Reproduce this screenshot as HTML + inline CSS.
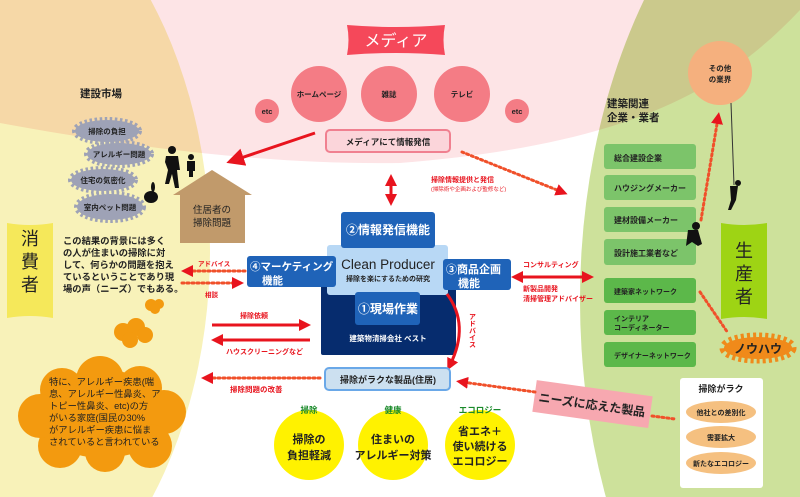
<!DOCTYPE html>
<html><head><meta charset="utf-8"><style>
html,body{margin:0;padding:0;background:#fff;width:800px;height:497px;overflow:hidden}
svg{display:block}
text{font-family:"Liberation Sans","Noto Sans CJK JP",sans-serif}
.s{font-family:"Liberation Serif","Noto Serif CJK SC",serif}
</style></head><body>
<svg width="800" height="497" viewBox="0 0 800 497" xmlns="http://www.w3.org/2000/svg">
<defs>
<marker id="ah" markerWidth="6" markerHeight="6" refX="4" refY="3" orient="auto" markerUnits="strokeWidth"><path d="M0,0 L6,3 L0,6 Z" fill="#e8141e"/></marker>
<marker id="ahs" markerWidth="4" markerHeight="4" refX="2" refY="2" orient="auto-start-reverse" markerUnits="strokeWidth"><path d="M0,0 L4,2 L0,4 Z" fill="#e8141e"/></marker>
<marker id="ad" markerWidth="4" markerHeight="4" refX="2" refY="2" orient="auto-start-reverse" markerUnits="strokeWidth"><path d="M0,0 L4,2 L0,4 Z" fill="#e8141e"/></marker>
</defs>
<rect width="800" height="497" fill="#fff"/>
<path d="M0,0 H800 V10 C720,95 620,145 400,163 C260,165 120,145 0,123 Z" fill="#fde4e6"/>
<ellipse cx="-60" cy="250" rx="270" ry="400" fill="#f8f2b9" style="mix-blend-mode:multiply"/>
<ellipse cx="900" cy="300" rx="320" ry="500" fill="#cde19b" style="mix-blend-mode:multiply"/>

<!-- media -->
<path d="M347,25 Q396,29 445,25 Q442,40 445,55 Q396,51 347,55 Q350,40 347,25Z" fill="#f5485a"/>
<text x="396" y="46" font-size="16" fill="#fff" text-anchor="middle">メディア</text>
<circle cx="319" cy="94" r="28" fill="#f47c85"/><text x="319" y="97" font-size="7.5" font-weight="bold" text-anchor="middle" fill="#222">ホームページ</text>
<circle cx="389" cy="94" r="28" fill="#f47c85"/><text x="389" y="97" font-size="7.5" font-weight="bold" text-anchor="middle" fill="#222">雑誌</text>
<circle cx="462" cy="94" r="28" fill="#f47c85"/><text x="462" y="97" font-size="7.5" font-weight="bold" text-anchor="middle" fill="#222">テレビ</text>
<circle cx="267" cy="111" r="12" fill="#f47c85"/><text x="267" y="114" font-size="7.5" font-weight="bold" text-anchor="middle" fill="#222">etc</text>
<circle cx="517" cy="111" r="12" fill="#f47c85"/><text x="517" y="114" font-size="7.5" font-weight="bold" text-anchor="middle" fill="#222">etc</text>
<rect x="326" y="130" width="124" height="22" rx="4" fill="#fbd5da" stroke="#f08090" stroke-width="2"/>
<text x="388" y="145" font-size="8.5" font-weight="bold" text-anchor="middle" fill="#222">メディアにて情報発信</text>
<line x1="315" y1="133" x2="232" y2="161" stroke="#e8141e" stroke-width="3" marker-end="url(#ah)"/>
<line x1="391" y1="180" x2="391" y2="200" stroke="#e8141e" stroke-width="3" marker-start="url(#ahs)" marker-end="url(#ahs)"/>
<line x1="462" y1="152" x2="562" y2="192" stroke="#f0502a" stroke-width="3" stroke-dasharray="2 3" stroke-linecap="round" marker-end="url(#ad)"/>
<text x="431" y="182" font-size="7" font-weight="bold" fill="#e8141e">掃除情報提供と発信</text>
<text x="431" y="191" font-size="5.5" fill="#e8141e">(掃除術や企画および監修など)</text>

<!-- center -->
<rect x="321" y="262" width="135" height="93" rx="2" fill="#062c6e"/>
<rect x="327" y="245" width="121" height="50" rx="3" fill="#b8d8f5"/>
<rect x="341" y="212" width="94" height="36" rx="3" fill="#1f63b8"/>
<text x="388" y="234" font-size="12" font-weight="bold" text-anchor="middle" fill="#fff">②情報発信機能</text>
<text x="388" y="269" font-size="13.5" text-anchor="middle" fill="#222">Clean Producer</text>
<text x="388" y="281" font-size="7" font-weight="bold" text-anchor="middle" fill="#222">掃除を楽にするための研究</text>
<rect x="355" y="292" width="65" height="33" rx="3" fill="#1f63b8"/>
<text x="388" y="313" font-size="12" font-weight="bold" text-anchor="middle" fill="#fff">①現場作業</text>
<text x="388" y="341" font-size="7.5" font-weight="bold" text-anchor="middle" fill="#fff">建築物清掃会社 ベスト</text>
<rect x="247" y="256" width="89" height="31" rx="3" fill="#1f63b8"/>
<text x="250" y="270" font-size="10.5" font-weight="bold" fill="#fff">④マーケティング</text>
<text x="262" y="284" font-size="10.5" font-weight="bold" fill="#fff">機能</text>
<rect x="443" y="259" width="68" height="31" rx="3" fill="#1f63b8"/>
<text x="446" y="273" font-size="11" font-weight="bold" fill="#fff">③商品企画</text>
<text x="458" y="287" font-size="11" font-weight="bold" fill="#fff">機能</text>
<line x1="517" y1="277" x2="588" y2="277" stroke="#e8141e" stroke-width="3" marker-start="url(#ahs)" marker-end="url(#ahs)"/>
<text x="523" y="267" font-size="7" font-weight="bold" fill="#e8141e">コンサルティング</text>
<text x="523" y="291" font-size="7" font-weight="bold" fill="#e8141e">新製品開発</text>
<text x="523" y="301" font-size="7" font-weight="bold" fill="#e8141e">清掃管理アドバイザー</text>
<path d="M447,294 Q470,325 450,365" fill="none" stroke="#e8141e" stroke-width="3" marker-end="url(#ahs)"/>
<text font-size="7" font-weight="bold" fill="#e8141e" writing-mode="tb" x="472" y="313">アドバイス</text>
<rect x="325" y="368" width="125" height="22" rx="4" fill="#cce0f0" stroke="#6aa8e8" stroke-width="2"/>
<text x="388" y="383" font-size="9" font-weight="bold" text-anchor="middle" fill="#222">掃除がラクな製品(住居)</text>
<line x1="320" y1="378" x2="207" y2="378" stroke="#f0502a" stroke-width="3" stroke-dasharray="2 3" stroke-linecap="round" marker-end="url(#ad)"/>
<text x="230" y="392" font-size="7.5" font-weight="bold" fill="#e8141e">掃除問題の改善</text>
<line x1="212" y1="325" x2="305" y2="325" stroke="#e8141e" stroke-width="3" marker-end="url(#ahs)"/>
<line x1="310" y1="340" x2="217" y2="340" stroke="#e8141e" stroke-width="3" marker-end="url(#ahs)"/>
<text x="240" y="318" font-size="7" font-weight="bold" fill="#e8141e">掃除依頼</text>
<text x="226" y="354" font-size="7" font-weight="bold" fill="#e8141e">ハウスクリーニングなど</text>
<circle cx="309" cy="445" r="35" fill="#fff200"/>
<circle cx="393" cy="445" r="35" fill="#fff200"/>
<circle cx="480" cy="445" r="35" fill="#fff200"/>
<text x="309" y="413" font-size="8.5" font-weight="bold" text-anchor="middle" fill="#1a8a2a">掃除</text>
<text x="393" y="413" font-size="8.5" font-weight="bold" text-anchor="middle" fill="#1a8a2a">健康</text>
<text x="480" y="413" font-size="8.5" font-weight="bold" text-anchor="middle" fill="#1a8a2a">エコロジー</text>
<g font-size="11" font-weight="bold" text-anchor="middle" fill="#222">
<text x="309" y="443">掃除の</text><text x="309" y="459">負担軽減</text>
<text x="393" y="443">住まいの</text><text x="393" y="459">アレルギー対策</text>
<text x="480" y="435">省エネ＋</text><text x="480" y="450">使い続ける</text><text x="480" y="465">エコロジー</text></g>

<!-- left -->
<text x="80" y="97" font-size="10.5" font-weight="bold" fill="#222">建設市場</text>
<g fill="#9ea2b6" stroke="#9ea2b6" stroke-width="6" stroke-dasharray="2.5 2.5">
<ellipse cx="107" cy="131" rx="32" ry="11"/>
<ellipse cx="119" cy="154" rx="32" ry="11"/>
<ellipse cx="103" cy="180" rx="32" ry="11"/>
<ellipse cx="110" cy="207" rx="33" ry="13"/>
</g>
<g font-size="7.5" font-weight="bold" fill="#222" text-anchor="middle">
<text x="107" y="134">掃除の負担</text><text x="119" y="157">アレルギー問題</text>
<text x="103" y="183">住宅の気密化</text><text x="110" y="210">室内ペット問題</text></g>
<g fill="#111">
<circle cx="172" cy="150" r="4"/><path d="M166,156 h12 l2,14 l-3,0 l2,18 h-4 l-3,-14 l-3,10 h-4 l3,-14 l-3,-8 z"/>
<circle cx="191" cy="157" r="3"/><path d="M187,161 h8 l0,10 l-2,0 l0,6 h-4 l0,-6 l-2,0 z"/>
<ellipse cx="151" cy="197" rx="7" ry="6"/><ellipse cx="153" cy="187" rx="2" ry="5"/>
</g>
<path d="M212,170 L252,195 L245,195 L245,243 L180,243 L180,195 L173,195 Z" fill="#c19a6b"/>
<text x="212" y="213" font-size="9.5" fill="#222" text-anchor="middle">住居者の</text>
<text x="212" y="226" font-size="9.5" fill="#222" text-anchor="middle">掃除問題</text>
<path d="M7,223 Q30,227 53,223 L53,318 Q30,314 7,318 Z" fill="#f5e85a"/>
<text x="30" y="245" font-size="18" fill="#222" text-anchor="middle">消</text>
<text x="30" y="268" font-size="18" fill="#222" text-anchor="middle">費</text>
<text x="30" y="291" font-size="18" fill="#222" text-anchor="middle">者</text>
<g font-size="9.3" font-weight="bold" fill="#222">
<text x="63" y="244">この結果の背景には多く</text>
<text x="63" y="256">の人が住まいの掃除に対</text>
<text x="63" y="268">して、何らかの問題を抱え</text>
<text x="63" y="280">ているということであり現</text>
<text x="63" y="292">場の声（ニーズ）でもある。</text></g>
<line x1="245" y1="271" x2="187" y2="271" stroke="#f0502a" stroke-width="3" stroke-dasharray="2 3" stroke-linecap="round" marker-end="url(#ad)"/>
<line x1="182" y1="283" x2="238" y2="283" stroke="#f0502a" stroke-width="3" stroke-dasharray="2 3" stroke-linecap="round" marker-end="url(#ad)"/>
<text x="198" y="266" font-size="6.5" font-weight="bold" fill="#e8141e">アドバイス</text>
<text x="205" y="297" font-size="6.5" font-weight="bold" fill="#e8141e">相談</text>
<g fill="#f39a0f">
<circle cx="151" cy="305" r="6"/><circle cx="159" cy="304" r="5"/><circle cx="155" cy="309" r="5"/>
<circle cx="123" cy="332" r="9"/><circle cx="136" cy="327" r="9"/><circle cx="145" cy="335" r="8"/><circle cx="130" cy="340" r="8"/>
<ellipse cx="103" cy="414" rx="68" ry="44"/>
<circle cx="62" cy="390" r="22"/><circle cx="100" cy="380" r="24"/><circle cx="140" cy="388" r="22"/>
<circle cx="164" cy="412" r="22"/><circle cx="150" cy="446" r="22"/><circle cx="105" cy="452" r="20"/>
<circle cx="60" cy="446" r="22"/><circle cx="40" cy="416" r="22"/></g>
<g class="s" font-size="9.3" fill="#222">
<text x="49" y="385">特に、アレルギー疾患(喘</text>
<text x="49" y="397">息、アレルギー性鼻炎、ア</text>
<text x="49" y="409">トピー性鼻炎、etc)の方</text>
<text x="49" y="421">がいる家庭(国民の30%</text>
<text x="49" y="433">がアレルギー疾患に悩ま</text>
<text x="49" y="445">されていると言われている</text></g>

<!-- right -->
<text x="607" y="107" font-size="10.5" font-weight="bold" fill="#222">建築関連</text>
<text x="607" y="121" font-size="10.5" font-weight="bold" fill="#222">企業・業者</text>
<circle cx="720" cy="73" r="32" fill="#f5b07e"/>
<text x="720" y="71" font-size="7.5" font-weight="bold" text-anchor="middle" fill="#222">その他</text>
<text x="720" y="82" font-size="7.5" font-weight="bold" text-anchor="middle" fill="#222">の業界</text>
<g>
<rect x="604" y="144" width="92" height="25" rx="3" fill="#7cc46a"/>
<rect x="604" y="175" width="92" height="25" rx="3" fill="#7cc46a"/>
<rect x="604" y="207" width="92" height="25" rx="3" fill="#7cc46a"/>
<rect x="604" y="239" width="92" height="26" rx="3" fill="#7cc46a"/>
<rect x="604" y="278" width="92" height="25" rx="3" fill="#5cb84a"/>
<rect x="604" y="310" width="92" height="25" rx="3" fill="#5cb84a"/>
<rect x="604" y="342" width="92" height="25" rx="3" fill="#5cb84a"/></g>
<g font-size="8" font-weight="bold" fill="#222">
<text x="614" y="161">総合建設企業</text>
<text x="614" y="191">ハウジングメーカー</text>
<text x="614" y="223">建材設備メーカー</text>
<text x="614" y="256">設計施工業者など</text>
<text x="614" y="294" font-size="7">建築家ネットワーク</text>
<text x="614" y="321" font-size="7">インテリア</text>
<text x="614" y="330" font-size="7">コーディネーター</text>
<text x="614" y="358" font-size="7">デザイナーネットワーク</text></g>
<path d="M721,223 Q744,227 767,223 L767,319 Q744,315 721,319 Z" fill="#9ed414"/>
<text x="744" y="257" font-size="18" fill="#222" text-anchor="middle">生</text>
<text x="744" y="280" font-size="18" fill="#222" text-anchor="middle">産</text>
<text x="744" y="303" font-size="18" fill="#222" text-anchor="middle">者</text>
<line x1="731" y1="103" x2="734" y2="185" stroke="#333" stroke-width="1"/>
<g fill="#111"><circle cx="738" cy="183" r="3"/><path d="M730,186 h8 l-2,14 l-5,10 h-3 l3,-10 z"/>
<circle cx="696" cy="226" r="4"/><path d="M688,230 h10 l4,14 l-4,2 l-6,-4 l-6,4 z"/></g>
<line x1="701" y1="220" x2="718" y2="118" stroke="#f0502a" stroke-width="3" stroke-dasharray="2 3" stroke-linecap="round" marker-end="url(#ad)"/>
<line x1="700" y1="292" x2="728" y2="333" stroke="#f0502a" stroke-width="3" stroke-dasharray="2 3" stroke-linecap="round"/>
<ellipse cx="758" cy="348" rx="34" ry="11" fill="#f08a1a" stroke="#f08a1a" stroke-width="9" stroke-dasharray="3 3"/>
<text x="758" y="353" font-size="12" font-weight="bold" text-anchor="middle" fill="#222">ノウハウ</text>
<g transform="rotate(8 592 404)"><rect x="534" y="388" width="117" height="32" fill="#f7a8b0"/>
<text x="592" y="409" font-size="12" font-weight="bold" text-anchor="middle" fill="#222">ニーズに応えた製品</text></g>
<line x1="535" y1="392" x2="462" y2="382" stroke="#f0502a" stroke-width="3" stroke-dasharray="2 3" stroke-linecap="round" marker-end="url(#ad)"/>
<line x1="652" y1="416" x2="675" y2="419" stroke="#f0502a" stroke-width="3" stroke-dasharray="2 3" stroke-linecap="round"/>
<rect x="680" y="378" width="83" height="110" rx="3" fill="#fff"/>
<text x="721" y="392" font-size="9" font-weight="bold" text-anchor="middle" fill="#222">掃除がラク</text>
<ellipse cx="721" cy="412" rx="35" ry="11" fill="#f5c080"/>
<ellipse cx="721" cy="437" rx="35" ry="11" fill="#f5c080"/>
<ellipse cx="721" cy="463" rx="35" ry="11" fill="#f5c080"/>
<g font-size="7" font-weight="bold" text-anchor="middle" fill="#222">
<text x="721" y="415">他社との差別化</text><text x="721" y="440">需要拡大</text><text x="721" y="466">新たなエコロジー</text></g>
</svg>
</body></html>
